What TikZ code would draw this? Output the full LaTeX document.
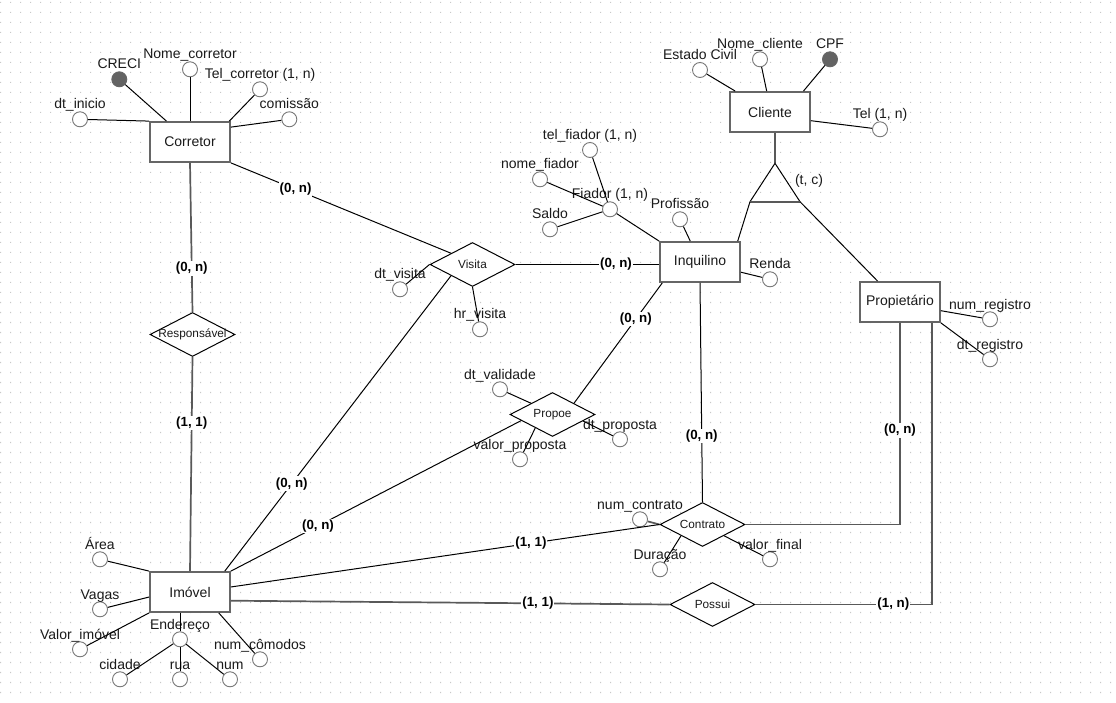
\documentclass[tikz,border=0pt]{standalone}
\usepackage{fontspec}
\setmainfont{Liberation Sans}
\usetikzlibrary{shapes.geometric,calc}

\definecolor{entline}{HTML}{666666}
\definecolor{attline}{HTML}{777777}
\definecolor{keyfill}{HTML}{636363}
\definecolor{gridc}{HTML}{C8C8C8}
\definecolor{txt}{HTML}{1A1A1A}

\tikzset{
  entity/.style={rectangle, draw=entline, line width=1.8pt, fill=white,
    minimum width=80pt, minimum height=40pt, inner sep=0pt,
    font=\fontsize{14}{16}\selectfont, text=txt},
  rel/.style={diamond, draw=black, line width=1pt, fill=white,
    minimum width=85pt, minimum height=44pt, inner sep=0pt,
    font=\fontsize{11.8}{14}\selectfont, text=txt},
  attr/.style={circle, draw=attline, line width=0.9pt, fill=white,
    minimum size=15pt, inner sep=0pt},
  keyattr/.style={attr, fill=keyfill, draw=entline},
  attrtext/.style={anchor=base, inner sep=0pt,
    font=\fontsize{14}{16}\selectfont, text=txt},
  card/.style={fill=white, inner sep=1pt, text=black,
    font=\bfseries\fontsize{13.3}{15}\selectfont},
  erlink/.style={draw=black, line width=1pt},
  erheavy/.style={draw=black!65, line width=1.7pt},
}

% attribute: circle plus its name above it
\newcommand{\erattr}[5][attr]{%
  \node[#1] (#2) at (#3,#4) {};
  \node[attrtext] (#2-t) at (#3,{#4-10.3}) {#5};}

\begin{document}
\begin{tikzpicture}[x=1pt,y=-1pt]
\fill[white] (0,0) rectangle (1116,703);
\useasboundingbox (0,0) rectangle (1116,703);

% dotted background grid
\fill[gridc] \foreach \x in {0,10,...,1110}{\foreach \y in {3,13,...,693}{(\x,\y) rectangle ++(1.2,-1.2)}};

% entities
\node[entity] (corretor)    at (190,142) {Corretor};
\node[entity] (cliente)     at (770,112) {Cliente};
\node[entity] (inquilino)   at (700,262) {Inquilino};
\node[entity] (propietario) at (900,302) {Propietário};
\node[entity] (imovel)      at (190,592) {Imóvel};

% relationships
\node[rel] (visita)   at (472.5,264.5) {\makebox[0pt]{Visita}};
\node[rel] (propoe)   at (552.5,414.5) {\makebox[0pt]{Propoe}};
\node[rel] (contrato) at (702.5,524.5) {\makebox[0pt]{Contrato}};
\node[rel] (possui)   at (712.5,604.5) {\makebox[0pt]{Possui}};
\node[rel] (resp)     at (192.5,334.5) {\makebox[0pt]{Responsável}};

% attributes of Corretor
\erattr[keyattr]{creci}{119.3}{79.3}{CRECI}
\erattr{nomecor}{190}{69.3}{Nome\_corretor}
\erattr{telcor}{260}{89.3}{Tel\_corretor (1, n)}
\erattr{comissao}{289.3}{119.3}{comissão}
\erattr{dtinicio}{80}{119.3}{dt\_inicio}
\draw[erlink] (creci) -- (corretor);
\draw[erlink] (nomecor) -- (corretor.north);
\draw[erlink] (telcor) -- (corretor.28);
\draw[erlink] (comissao) -- (corretor.20);
\draw[erlink] (dtinicio) -- (corretor.north west);

% attributes of Cliente
\erattr{estcivil}{700}{70}{Estado Civil}
\erattr{nomecli}{760}{59.3}{Nome\_cliente}
\erattr[keyattr]{cpf}{830}{59.3}{CPF}
\erattr{telcli}{880}{129.3}{Tel (1, n)}
\draw[erlink] (estcivil) -- (cliente.149);
\draw[erlink] (nomecli) -- (cliente.99);
\draw[erlink] (cpf) -- (cliente.32);
\draw[erlink] (telcli) -- (cliente.-12);

% attributes of Inquilino
\erattr{profissao}{680}{219.3}{Profissão}
\erattr{renda}{770}{279.3}{Renda}
\erattr{fiador}{610}{209.3}{Fiador (1, n)}
\erattr{telfiador}{590}{150}{tel\_fiador (1, n)}
\erattr{nomefiador}{540}{179.3}{nome\_fiador}
\erattr{saldo}{550}{229.3}{Saldo}
\draw[erlink] (profissao) -- (inquilino.115);
\draw[erlink] (renda) -- (inquilino.-14);
\draw[erlink] (fiador) -- (inquilino.north west);
\draw[erlink] (telfiador) -- (fiador);
\draw[erlink] (nomefiador) -- (fiador);
\draw[erlink] (saldo) -- (fiador);

% attributes of Propietario
\erattr{numreg}{990}{319.3}{num\_registro}
\erattr{dtreg}{990}{359.3}{dt\_registro}
\draw[erlink] (numreg) -- (propietario.-12);
\draw[erlink] (dtreg) -- (propietario.south east);

% attributes of Visita
\erattr{dtvisita}{400}{289.3}{dt\_visita}
\erattr{hrvisita}{480}{329.3}{hr\_visita}
\draw[erlink] (dtvisita) -- (visita.west);
\draw[erlink] (hrvisita) -- (visita.south);

% attributes of Propoe
\erattr{dtvalidade}{500}{389.3}{dt\_validade}
\erattr{dtproposta}{620}{439.3}{dt\_proposta}
\erattr{valorprop}{520}{459.3}{valor\_proposta}
\draw[erlink] (dtvalidade) -- (propoe.north west);
\draw[erlink] (dtproposta) -- (propoe.-12);
\draw[erlink] (valorprop) -- (propoe.218);

% attributes of Contrato
\erattr{numcontrato}{640}{519.3}{num\_contrato}
\erattr{duracao}{660}{569.3}{Duração}
\erattr{valorfinal}{770}{559.3}{valor\_final}
\draw[erheavy] (numcontrato) -- (contrato.west);
\draw[erlink] (duracao) -- (contrato.south west);
\draw[erlink] (valorfinal) -- (contrato.south east);

% attributes of Imovel
\erattr{area}{100}{559.3}{Área}
\erattr{vagas}{100}{609.3}{Vagas}
\erattr{valorimovel}{80}{649.3}{Valor\_imóvel}
\erattr{endereco}{180}{639.3}{Endereço}
\erattr{cidade}{120}{679.3}{cidade}
\erattr{rua}{180}{679.3}{rua}
\erattr{num}{230}{679.3}{num}
\erattr{numcomodos}{260}{659.3}{num\_cômodos}
\draw[erlink] (area) -- (imovel.north west);
\draw[erlink] (vagas) -- (imovel.187);
\draw[erlink] (valorimovel) -- (imovel.south west);
\draw[erlink] (endereco) -- (endereco |- imovel.south);
\draw[erlink] (cidade) -- (endereco);
\draw[erlink] (rua) -- (endereco);
\draw[erlink] (num) -- (endereco);
\draw[erlink] (numcomodos) -- (imovel.-36.8);

% specialization of Cliente
\coordinate (tapex)  at (775,163.3);
\coordinate (tleft)  at (750,201.7);
\coordinate (tright) at (800,201.7);
\draw[erheavy] (tapex |- cliente.south) -- (tapex);
\draw[erlink] (tleft) -- (tapex) -- (tright);
\draw[erheavy] (tleft) -- (tright);
\node[attrtext, anchor=center] (tc) at (809,180.7) {(t, c)};
\draw[erlink] (tleft) -- (inquilino.29);
\draw[erlink] (tright) -- (propietario.137);

% relationship connectors with cardinalities
\draw[erlink] (corretor.south east) -- (visita.north west)
  node[card, pos=.294] (c1) {(0, n)};
\draw[erlink] (visita.east) -- (visita.east -| inquilino.west)
  node[card, pos=.70] (c2) {(0, n)};
\draw[erlink] (imovel.31.5) -- (visita.south west)
  node[card, pos=.296] (c3) {(0, n)};
\draw[erlink] (imovel.north east) -- (propoe.191)
  node[card, pos=.30] (c4) {(0, n)};
\draw[erlink] (propoe.north east) -- (inquilino.209.7)
  node[card, pos=.70] (c5) {(0, n)};
\draw[erlink] (inquilino.south) -- (contrato.north)
  node[card, pos=.70] (c6) {(0, n)};
\draw[erheavy] (propietario.south) |- (contrato.east)
  node[card, pos=.267] (c7) {(0, n)};
\draw[erlink] (imovel.7) -- (contrato.west)
  node[card, pos=.70] (c8) {(1, 1)};
\draw[erheavy] (imovel.-12.7) -- (possui.west)
  node[card, pos=.70] (c9) {(1, 1)};
\draw[erheavy] (possui.east) -| (propietario.-33.7)
  node[card, pos=.39] (c10) {(1, n)};
\draw[erheavy] (corretor.south) -- (resp.north)
  node[card, pos=.707] (c11) {(0, n)};
\draw[erheavy] (resp.south) -- (imovel.north)
  node[card, pos=.307] (c12) {(1, 1)};
\end{tikzpicture}
\end{document}
